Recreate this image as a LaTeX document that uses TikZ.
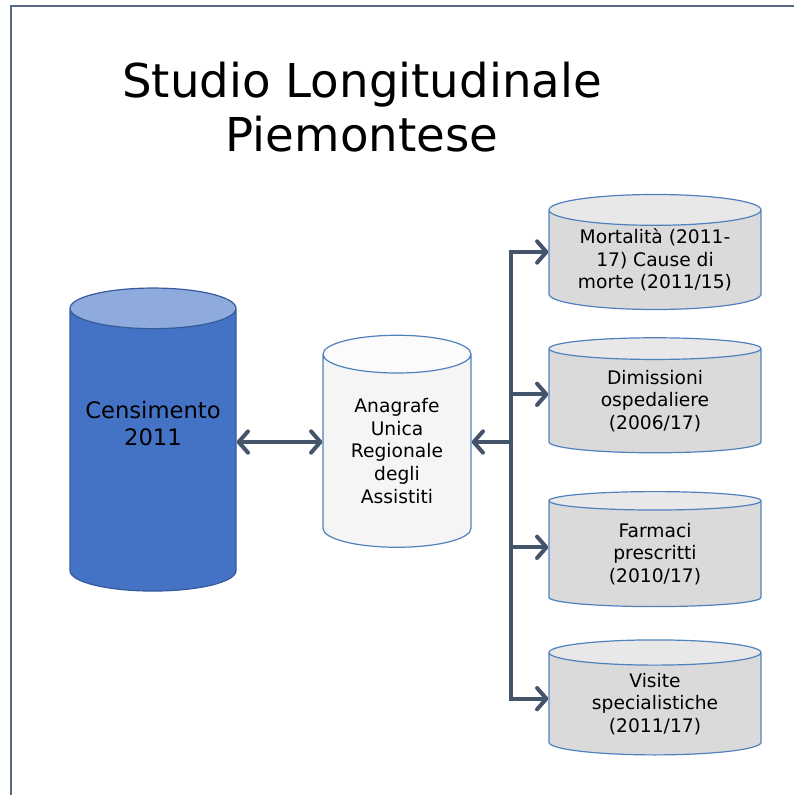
\documentclass[tikz,border=0pt]{standalone}
\usepackage{fontspec}
\setmainfont{DejaVu Sans}
\usetikzlibrary{arrows.meta,shapes.geometric}

\definecolor{slate}{HTML}{44546A}
\definecolor{cylblue}{HTML}{4472C4}
\definecolor{cyltop}{HTML}{8FAADC}
\definecolor{rim}{HTML}{4F81BD}
\definecolor{framegray}{HTML}{5A6A80}
\definecolor{srcbody}{HTML}{DADADA}
\definecolor{srctop}{HTML}{E8E8E8}

\begin{document}
\begin{tikzpicture}[
  x=0.75pt, y=-0.75pt,
  db/.style={cylinder, shape border rotate=90, draw=rim, line width=0.9pt,
    cylinder uses custom fill, align=center, inner sep=0pt,
    font=\fontsize{14}{17}\selectfont},
  source/.style={db, cylinder body fill=srcbody, cylinder end fill=srctop,
    minimum width=212*0.75pt, minimum height=115*0.75pt, aspect=0.2},
  link/.style={line width=3pt, draw=slate,
    -{Straight Barb[length=7pt, width=16pt, round]}}
]
\useasboundingbox (0,0) rectangle (794,795);
\draw[framegray, line width=1.5pt] (11,795) -- (11,6) -- (794,6);

% titolo
\node[align=center, font=\fontsize{35}{41}\selectfont] (title) at (362,107)
  {Studio Longitudinale\\Piemontese};

% sorgenti
\node[db, cylinder body fill=cylblue, cylinder end fill=cyltop, draw=cylblue!80!black,
  minimum width=166*0.75pt, minimum height=303*0.75pt, aspect=0.3,
  font=\fontsize{17}{20}\selectfont] (cens) at (153,450)
  {Censimento\\2011\\[20pt]};
\node[db, cylinder body fill=gray!8, cylinder end fill=gray!3,
  minimum width=148*0.75pt, minimum height=212*0.75pt, aspect=0.41] (anag) at (397,451)
  {Anagrafe\\Unica\\Regionale\\degli\\Assistiti};

\node[source] (mort) at (655,260) {Mortalità (2011-\\17) Cause di\\morte (2011/15)};
\node[source] (dimi) at (655,401) {Dimissioni\\ospedaliere\\(2006/17)};
\node[source] (farm) at (655,554) {Farmaci\\prescritti\\(2010/17)};
\node[source] (visi) at (655,704) {Visite\\specialistiche\\(2011/17)};

\coordinate (hub) at (511,442);

\draw[link, {Straight Barb[length=7pt, width=16pt, round]}-{Straight Barb[length=7pt, width=16pt, round]}]
  (cens.east |- hub) -- (anag.west |- hub);
\draw[link] (hub) -- (anag.east |- hub);
\draw[link] (hub) |- ([yshift=6pt]mort.west);
\draw[link] (hub) |- ([yshift=5pt]dimi.west);
\draw[link] (hub) |- ([yshift=5pt]farm.west);
\draw[link] (hub) |- ([yshift=4pt]visi.west);

\end{tikzpicture}
\end{document}
